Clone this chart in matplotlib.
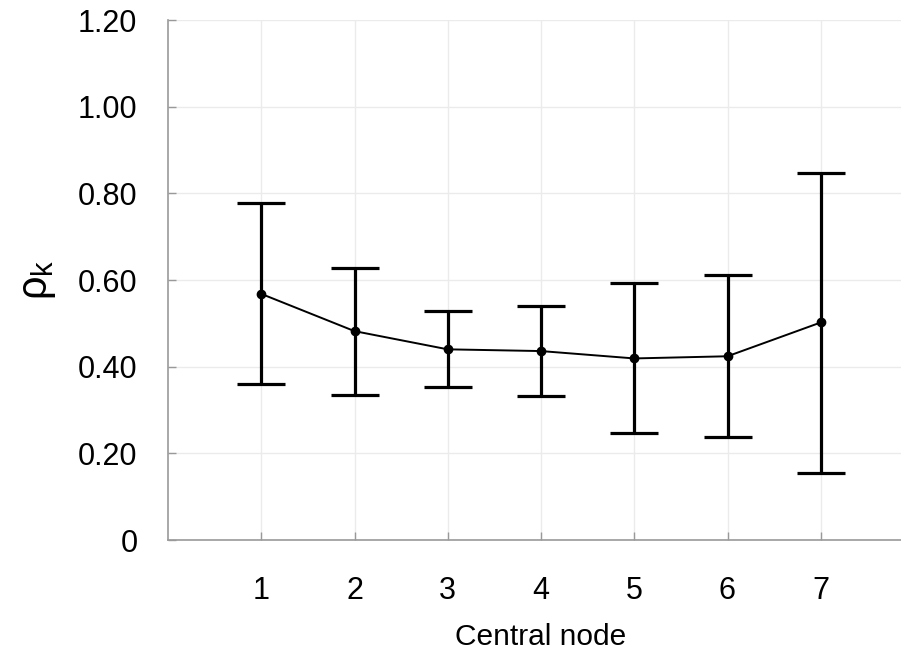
import matplotlib
matplotlib.use("Agg")
import matplotlib.pyplot as plt

plt.rcParams['font.family'] = ['Liberation Sans', 'DejaVu Sans']
plt.rcParams['mathtext.fontset'] = 'custom'
plt.rcParams['mathtext.rm'] = 'Liberation Sans'
plt.rcParams['mathtext.it'] = 'Liberation Sans'

# data
nodes = [1, 2, 3, 4, 5, 6, 7]
rho_mean = [0.568, 0.482, 0.440, 0.436, 0.419, 0.424, 0.502]
rho_upper = [0.777, 0.627, 0.529, 0.541, 0.592, 0.611, 0.846]
rho_lower = [0.360, 0.335, 0.352, 0.332, 0.246, 0.238, 0.155]
ytick_vals = [0, 0.2, 0.4, 0.6, 0.8, 1.0, 1.2]
ytick_labels = ["0", "0.20", "0.40", "0.60", "0.80", "1.00", "1.20"]

err_low = [m - l for m, l in zip(rho_mean, rho_lower)]
err_high = [u - m for m, u in zip(rho_mean, rho_upper)]

fig = plt.figure(figsize=(9.01, 6.59), dpi=100)
ax = fig.add_axes([168/901, 119/659, 746/901, 520/659])

ax.errorbar(nodes, rho_mean, yerr=[err_low, err_high], fmt='none',
            ecolor='black', elinewidth=2.3, capsize=17, capthick=2.3, zorder=3)
ax.plot(nodes, rho_mean, color='black', linewidth=1.4, marker='o',
        markersize=6, zorder=4)

ax.set_xlim(0, 8)
ax.set_ylim(0, 1.2)
ax.set_xticks(nodes)
ax.set_yticks(ytick_vals)
ax.set_yticklabels(ytick_labels)
ax.tick_params(axis='both', direction='in', length=6, width=1, color='#999999',
               labelsize=22)
ax.tick_params(axis='x', pad=26)
ax.tick_params(axis='y', pad=22)

ax.grid(True, color='#ebebeb', linewidth=1)
ax.set_axisbelow(True)
for s in ['top', 'right']:
    ax.spines[s].set_visible(False)
for s in ['left', 'bottom']:
    ax.spines[s].set_color('#999999')
    ax.spines[s].set_linewidth(1.2)

ax.set_xlabel("Central node", fontsize=21.5, labelpad=12)
ax.set_ylabel(r"$\rho_k$", fontsize=30, labelpad=14)

fig.savefig("out.png", dpi=100)
